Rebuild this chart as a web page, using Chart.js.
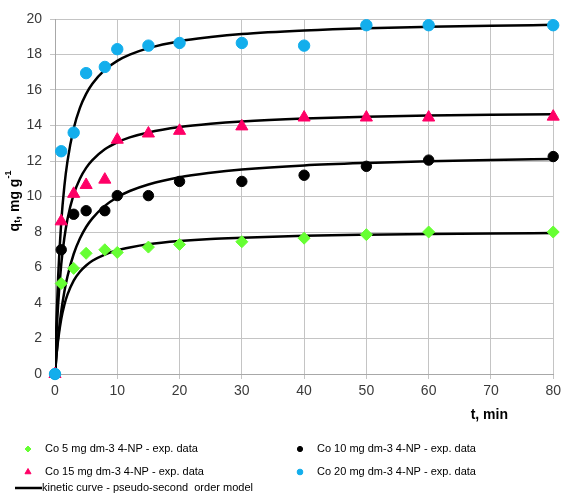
<!DOCTYPE html>
<html>
<head>
<meta charset="utf-8">
<script src="https://cdn.jsdelivr.net/npm/chart.js@4.4.1/dist/chart.umd.min.js"></script>
<style>
  html, body { margin: 0; padding: 0; background: #fff; }
  #wrap { width: 565px; height: 501px; }
</style>
</head>
<body>
<div id="wrap"><canvas id="myChart" width="565" height="501"></canvas></div>
<script>
// experimental sampling times (min)
const times = [0, 1, 3, 5, 8, 10, 15, 20, 30, 40, 50, 60, 80];

// measured q_t values, mg/g
const co5 = [0, 5.1, 5.95, 6.8, 7.0, 6.85, 7.15, 7.3, 7.45, 7.65, 7.85, 8.0, 8.0];
const co10 = [0, 7.0, 9.0, 9.2, 9.2, 10.05, 10.05, 10.85, 10.85, 11.2, 11.7, 12.05, 12.25];
const co15 = [0, 8.6, 10.15, 10.65, 10.95, 13.2, 13.55, 13.7, 13.95, 14.45, 14.45, 14.45, 14.5];
const co20 = [0, 12.55, 13.6, 16.95, 17.3, 18.3, 18.5, 18.65, 18.65, 18.5, 19.65, 19.65, 19.65];

// model curve
const curveT = [0, 0.25, 0.5, 1, 1.5, 2, 3, 4, 5, 6, 8, 10, 12, 15, 20, 25, 30, 40, 50, 60, 70, 80];
const fit5 = [0, 1.08, 1.91, 3.09, 3.89, 4.47, 5.26, 5.76, 6.11, 6.38, 6.73, 6.97, 7.13, 7.31, 7.49, 7.61, 7.68, 7.79, 7.85, 7.89, 7.92, 7.94];
const fit10 = [0, 1.12, 2.05, 3.52, 4.63, 5.49, 6.76, 7.63, 8.28, 8.77, 9.47, 9.96, 10.31, 10.68, 11.09, 11.34, 11.52, 11.75, 11.89, 11.99, 12.06, 12.11];
const fit15 = [0, 2.24, 3.89, 6.17, 7.66, 8.72, 10.12, 11.0, 11.61, 12.05, 12.66, 13.05, 13.33, 13.61, 13.91, 14.10, 14.23, 14.39, 14.49, 14.56, 14.60, 14.64];
const fit20 = [0, 3.15, 5.44, 8.55, 10.57, 11.98, 13.83, 14.99, 15.78, 16.35, 17.13, 17.64, 17.99, 18.36, 18.75, 18.98, 19.15, 19.35, 19.48, 19.56, 19.62, 19.67];

const labels5 = "Co 5 mg dm-3 4-NP - exp. data";
const labels10 = "Co 10 mg dm-3 4-NP - exp. data";
const labels15 = "Co 15 mg dm-3 4-NP - exp. data";
const labels20 = "Co 20 mg dm-3 4-NP - exp. data";
const curveLabel = "kinetic curve - pseudo-second  order model";
const xTitle = "t, min";

const FONT = '"Liberation Sans", Arial, sans-serif';

// turn two arrays into {x, y} points
const toPoints = (xs, ys) => xs.map((x, i) => ({ x: x, y: ys[i] }));

const expSet = (label, ys, color, style, radius, order) => ({
    label: label,
    data: toPoints(times, ys),
    pointStyle: style,
    pointRadius: radius,
    pointBackgroundColor: color,
    pointBorderColor: color,
    pointBorderWidth: 1,
    showLine: false,
    clip: false, // markers on the axes are not cut off
    order: order,
    legendRadius: radius * 0.5
});

const curveSet = (label, ys) => ({
    label: label,
    data: toPoints(curveT, ys),
    showLine: true,
    borderColor: "#000",
    borderWidth: 2.5,
    pointRadius: 0,
    cubicInterpolationMode: "monotone",
    order: 10
});

const datasets = [
    expSet(labels5, co5, "#66ff33", "rectRot", 6, 4),
    expSet(labels10, co10, "#000000", "circle", 5.2, 3),
    expSet(labels15, co15, "#ff0066", "triangle", 7, 2),
    expSet(labels20, co20, "#13aeec", "circle", 5.7, 1),
    curveSet(curveLabel, fit5),
    curveSet("", fit10),
    curveSet("", fit15),
    curveSet("", fit20)
];

// axis titles and the legend are drawn here
const textPlugin = {
    id: "textPlugin",
    afterDraw(chart) {
        const ctx = chart.ctx;
        ctx.save();
        ctx.fillStyle = "#000";

        // x title
        ctx.font = "bold 14px " + FONT;
        ctx.textAlign = "right";
        ctx.textBaseline = "middle";
        ctx.fillText(xTitle, 508, 415);

        // y title with subscript and superscript
        const parts = [
            { t: "q", size: 14, dy: 0 },
            { t: "t", size: 9, dy: 3 },
            { t: ", mg g", size: 14, dy: 0 },
            { t: "-1", size: 9, dy: -6 }
        ];
        let total = 0;
        parts.forEach((p) => {
            ctx.font = "bold " + p.size + "px " + FONT;
            p.w = ctx.measureText(p.t).width;
            total += p.w;
        });
        ctx.translate(15, 201);
        ctx.rotate(-Math.PI / 2);
        ctx.textAlign = "left";
        let px = -total / 2;
        parts.forEach((p) => {
            ctx.font = "bold " + p.size + "px " + FONT;
            ctx.fillText(p.t, px, p.dy);
            px += p.w;
        });
        ctx.setTransform(1, 0, 0, 1, 0, 0);

        // legend
        const slots = [[28, 449], [300, 449], [28, 472], [300, 472]];
        ctx.font = "11px " + FONT;
        ctx.textAlign = "left";
        ctx.textBaseline = "middle";
        chart.data.datasets.slice(0, 4).forEach((ds, i) => {
            const [mx, my] = slots[i];
            ctx.fillStyle = ds.pointBackgroundColor;
            ctx.strokeStyle = ds.pointBorderColor;
            ctx.lineWidth = 1;
            Chart.helpers.drawPoint(ctx, { pointStyle: ds.pointStyle, radius: ds.legendRadius, borderWidth: 1 }, mx, my);
            ctx.fillStyle = "#000";
            ctx.fillText(ds.label, mx + 17, my);
        });
        const line = chart.data.datasets[4];
        ctx.strokeStyle = line.borderColor;
        ctx.lineWidth = 2.5;
        ctx.beginPath();
        ctx.moveTo(15, 488);
        ctx.lineTo(42, 488);
        ctx.stroke();
        ctx.fillStyle = "#000";
        ctx.fillText(line.label, 42, 488);

        ctx.restore();
    }
};

const tickFont = { family: FONT, size: 14 };

const config = {
    type: "scatter",
    data: { datasets },
    options: {
        responsive: false,
        animation: false,
        devicePixelRatio: 1,
        layout: { padding: { top: 19, right: 9, bottom: 0, left: 0 } },
        plugins: {
            legend: { display: false },
            tooltip: { enabled: false }
        },
        scales: {
            x: {
                type: "linear",
                min: 0,
                max: 80,
                ticks: { stepSize: 10, color: "#3a3a3a", font: tickFont, padding: 4 },
                grid: { color: "#c4c4c4", tickLength: 5 },
                border: { color: "#a8a8a8" },
                afterFit: (scale) => { scale.height = 127; }
            },
            y: {
                min: 0,
                max: 20,
                ticks: { stepSize: 2, color: "#3a3a3a", font: tickFont, padding: 8 },
                grid: { color: "#c4c4c4", tickLength: 5 },
                border: { color: "#a8a8a8" },
                afterFit: (scale) => { scale.width = 55; }
            }
        }
    },
    plugins: [textPlugin]
};

const myChart = new Chart(document.getElementById("myChart"), config);
</script>
</body>
</html>
